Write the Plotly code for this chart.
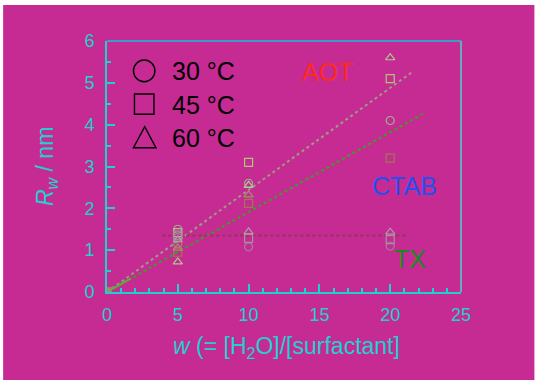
import plotly.graph_objects as go

# Water-pool radius vs. water/surfactant molar ratio for three surfactants
w_values = [0, 5, 10, 20]

aot_30 = [0, 1.50, 2.60, 4.10]
aot_45 = [0, 1.42, 3.10, 5.10]
aot_60 = [0, 0.72, 2.55, 5.60]

ctab_30 = [0, 1.15, None, None]
ctab_45 = [0, 0.95, 2.12, 3.20]
ctab_60 = [0, 1.05, 2.32, None]

tx_30 = [None, 1.30, 1.08, 1.10]
tx_45 = [None, 1.36, 1.28, 1.25]
tx_60 = [None, 1.25, 1.44, 1.43]

# Linear trends
aot_slope = 0.244
aot_w_end = 21.6
ctab_slope = 0.191
ctab_w_end = 22.3
tx_level = 1.35
tx_w_range = [3.9, 21.2]

x_ticks = [0, 5, 10, 15, 20, 25]
y_ticks = [0, 1, 2, 3, 4, 5, 6]
temp_labels = ["30 °C", "45 °C", "60 °C"]

MAGENTA = "#C62A93"
CYAN = "#1FD0D0"
FONT = "Liberation Sans, Arial, sans-serif"

W, H = 535, 380
L, R, T, B = 107, 461.5, 41, 292


def px(x):
    return (x - L) / (R - L)


def py(y):
    return (B - y) / (B - T)


fig = go.Figure()

# trend lines
fig.add_trace(go.Scatter(x=[0, aot_w_end], y=[0, aot_slope * aot_w_end], mode="lines",
                         line=dict(color="#9C9C86", width=2, dash="3px,3px"),
                         showlegend=False, hoverinfo="skip"))
fig.add_trace(go.Scatter(x=[0, ctab_w_end], y=[0, ctab_slope * ctab_w_end], mode="lines",
                         line=dict(color="#3E9E22", width=2, dash="3px,3px"),
                         showlegend=False, hoverinfo="skip"))
fig.add_trace(go.Scatter(x=[0, 1.7], y=[0, ctab_slope * 1.7], mode="lines",
                         line=dict(color="#5AAE3A", width=2),
                         showlegend=False, hoverinfo="skip"))
fig.add_trace(go.Scatter(x=tx_w_range, y=[tx_level, tx_level], mode="lines",
                         line=dict(color="#8E3A56", width=2, dash="3px,3px"),
                         showlegend=False, hoverinfo="skip"))

symbols = ["circle-open", "square-open", "triangle-up-open"]
series = [
    (aot_30, aot_45, aot_60, ["#98B48A", "#A8C878", "#B0C890"]),
    (ctab_30, ctab_45, ctab_60, ["#A08A6A", "#9C7A4E", "#A49070"]),
    (tx_30, tx_45, tx_60, ["#A0809A", "#A8909E", "#B09AA8"]),
]
for s30, s45, s60, cols in series:
    for vals, sym, col in zip((s30, s45, s60), symbols, cols):
        fig.add_trace(go.Scatter(x=w_values, y=vals, mode="markers",
                                 marker=dict(symbol=sym, size=8, color=col,
                                             line=dict(width=1.2, color=col)),
                                 showlegend=False))

shapes = [
    # magenta page with thin white margin
    dict(type="rect", xref="paper", yref="paper", x0=px(3), x1=px(W), y0=py(H), y1=py(5),
         fillcolor=MAGENTA, line=dict(width=0), layer="below"),
    # top and right frame lines
    dict(type="line", xref="paper", yref="paper", x0=0, x1=1, y0=1, y1=1,
         line=dict(color="#3A9CCC", width=2)),
    dict(type="line", xref="paper", yref="paper", x0=1, x1=1, y0=0, y1=1,
         line=dict(color="#62AEB8", width=2)),
    # key symbols
    dict(type="circle", xref="paper", yref="paper", x0=px(133.5), x1=px(155), y0=py(81.7), y1=py(60),
         line=dict(color="black", width=1.4)),
    dict(type="rect", xref="paper", yref="paper", x0=px(134.5), x1=px(154), y0=py(114.3), y1=py(94),
         line=dict(color="black", width=1.4)),
    dict(type="path", xref="paper", yref="paper",
         path=f"M {px(133.5)} {py(147.7)} L {px(156)} {py(147.7)} L {px(144.75)} {py(126.7)} Z",
         line=dict(color="black", width=1.4)),
]

annotations = []
for lbl, yc in zip(temp_labels, [71, 105, 137.5]):
    annotations.append(dict(text=lbl, xref="paper", yref="paper", x=px(170), y=py(yc),
                            xanchor="left", yanchor="middle", showarrow=False,
                            font=dict(family=FONT, size=25, color="black")))

annotations += [
    dict(text="AOT", x=15.6, y=5.27, xref="x", yref="y", showarrow=False,
         font=dict(family=FONT, size=25, color="#FF2A1E")),
    dict(text="CTAB", x=21.0, y=2.54, xref="x", yref="y", showarrow=False,
         font=dict(family=FONT, size=25, color="#2450F0")),
    dict(text="TX", x=21.4, y=0.78, xref="x", yref="y", showarrow=False,
         font=dict(family=FONT, size=25, color="#1E8A1E")),
    dict(text="<i>w</i> (= [H<sub>2</sub>O]/[surfactant]", xref="paper", yref="paper",
         x=px(286.5), y=py(347), xanchor="center", yanchor="middle", showarrow=False,
         font=dict(family=FONT, size=23, color=CYAN)),
    dict(text="<i>R</i><sub><i>w</i></sub> / nm", xref="paper", yref="paper",
         x=px(46), y=py(167), xanchor="center", yanchor="middle", textangle=-90,
         showarrow=False, font=dict(family=FONT, size=23, color=CYAN)),
]

fig.update_layout(
    width=W, height=H,
    margin=dict(l=L, r=W - R, t=T, b=H - B),
    paper_bgcolor="white",
    plot_bgcolor="rgba(0,0,0,0)",
    shapes=shapes,
    annotations=annotations,
    showlegend=False,
)

fig.update_xaxes(range=[0, 25], tickvals=x_ticks, ticks="inside", ticklen=8, tickwidth=1.5,
                 tickcolor=CYAN, showgrid=False, zeroline=False, showline=True,
                 linecolor=CYAN, linewidth=2, ticklabelstandoff=5,
                 tickfont=dict(family=FONT, size=18, color=CYAN),
                 minor=dict(dtick=1, ticks="inside", ticklen=4, tickcolor=CYAN, tickwidth=1.5))
fig.update_yaxes(range=[0, 6], tickvals=y_ticks, ticks="inside", ticklen=8, tickwidth=1.5,
                 tickcolor=CYAN, showgrid=False, zeroline=False, showline=True,
                 linecolor=CYAN, linewidth=2, ticklabelstandoff=7,
                 tickfont=dict(family=FONT, size=18, color=CYAN),
                 minor=dict(dtick=0.5, ticks="inside", ticklen=4, tickcolor=CYAN, tickwidth=1.5))

fig.write_html("out.html")
